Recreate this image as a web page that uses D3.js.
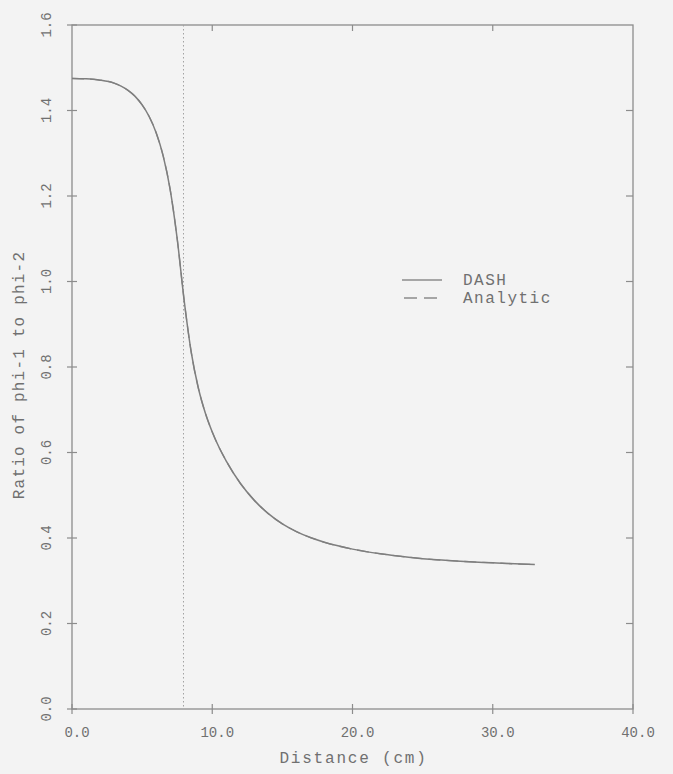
<!DOCTYPE html>
<html>
<head>
<meta charset="utf-8">
<script src="https://cdn.jsdelivr.net/npm/d3@7"></script>
<style>
  html, body { margin: 0; padding: 0; background: #f3f3f3; }
  svg { display: block; }
  text { font-family: "Liberation Mono", "DejaVu Sans Mono", monospace; fill: #707070; }
</style>
</head>
<body>
<script>
// ---- data ----
const distance = [0, 1, 2, 3, 3.5, 4, 4.5, 5, 5.5, 6, 6.5, 7, 7.5, 8, 8.5, 9, 9.5, 10, 10.5, 11, 12, 13, 14, 15, 16, 17, 18, 20, 22, 24, 26, 28, 30, 32, 33];
const dashRatio = [1.475, 1.474, 1.471, 1.464, 1.457, 1.447, 1.433, 1.413, 1.386, 1.348, 1.294, 1.215, 1.100, 0.955, 0.835, 0.752, 0.693, 0.648, 0.611, 0.580, 0.528, 0.488, 0.457, 0.433, 0.415, 0.401, 0.390, 0.374, 0.363, 0.355, 0.349, 0.345, 0.342, 0.339, 0.338];
const analyticRatio = [1.475, 1.474, 1.471, 1.464, 1.457, 1.447, 1.433, 1.413, 1.386, 1.348, 1.294, 1.215, 1.100, 0.955, 0.835, 0.752, 0.693, 0.648, 0.611, 0.580, 0.528, 0.488, 0.457, 0.433, 0.415, 0.401, 0.390, 0.374, 0.363, 0.355, 0.349, 0.345, 0.342, 0.339, 0.338];
const interfacePosition = 7.95;
const xTicks = [0, 10, 20, 30, 40];
const yTicks = [0, 0.2, 0.4, 0.6, 0.8, 1.0, 1.2, 1.4, 1.6];
const legendLabels = ["DASH", "Analytic"];
const xTitle = "Distance (cm)";
const yTitle = "Ratio of phi-1 to phi-2";

// ---- layout ----
const W = 673, H = 774;
const mLeft = 72, mRight = 633, mTop = 25, mBottom = 709;
const lineColor = "#8c8c8c";

const svg = d3.select("body").append("svg").attr("width", W).attr("height", H);
svg.append("rect").attr("width", W).attr("height", H).attr("fill", "#f3f3f3");

const x = d3.scaleLinear().domain([0, 40]).range([mLeft, mRight]);
const y = d3.scaleLinear().domain([0, 1.6]).range([mBottom, mTop]);

// frame
svg.append("rect").attr("x", mLeft).attr("y", mTop).attr("width", mRight - mLeft).attr("height", mBottom - mTop)
  .attr("fill", "none").attr("stroke", lineColor).attr("stroke-width", 1.3);

// bottom axis ticks (crossing)
const gx = svg.append("g");
gx.selectAll("line").data(xTicks).join("line")
  .attr("x1", d => x(d)).attr("x2", d => x(d))
  .attr("y1", mBottom - 5).attr("y2", mBottom + 5)
  .attr("stroke", lineColor).attr("stroke-width", 1.2);
gx.selectAll("text").data(xTicks).join("text")
  .attr("x", d => x(d) + 5).attr("y", mBottom + 28)
  .attr("text-anchor", "middle").attr("font-size", 14)
  .text(d => d3.format(".1f")(d));
// top ticks (inward)
svg.append("g").selectAll("line").data(xTicks.slice(1, -1)).join("line")
  .attr("x1", d => x(d)).attr("x2", d => x(d))
  .attr("y1", mTop).attr("y2", mTop + 6)
  .attr("stroke", lineColor).attr("stroke-width", 1.2);

// left axis ticks (crossing)
const gy = svg.append("g");
gy.selectAll("line").data(yTicks).join("line")
  .attr("x1", mLeft - 5).attr("x2", mLeft + 5)
  .attr("y1", d => y(d)).attr("y2", d => y(d))
  .attr("stroke", lineColor).attr("stroke-width", 1.2);
gy.selectAll("text").data(yTicks).join("text")
  .attr("transform", d => `translate(${mLeft - 21},${y(d)}) rotate(-90)`)
  .attr("text-anchor", "middle").attr("font-size", 14)
  .text(d => d3.format(".1f")(d));
// right ticks (inward)
svg.append("g").selectAll("line").data(yTicks.slice(1, -1)).join("line")
  .attr("x1", mRight - 7).attr("x2", mRight)
  .attr("y1", d => y(d)).attr("y2", d => y(d))
  .attr("stroke", lineColor).attr("stroke-width", 1.2);

// interface dotted line
svg.append("line")
  .attr("x1", x(interfacePosition)).attr("x2", x(interfacePosition))
  .attr("y1", mTop).attr("y2", mBottom)
  .attr("stroke", "#a2a2a2").attr("stroke-width", 1).attr("stroke-dasharray", "1.5,2.5");

// curves
const line = d3.line().curve(d3.curveMonotoneX);
svg.append("path")
  .attr("d", line(distance.map((d, i) => [x(d), y(analyticRatio[i])])))
  .attr("fill", "none").attr("stroke", lineColor).attr("stroke-width", 1.3)
  .attr("stroke-dasharray", "12,6");
svg.append("path")
  .attr("d", line(distance.map((d, i) => [x(d), y(dashRatio[i])])))
  .attr("fill", "none").attr("stroke", "#7e7e7e").attr("stroke-width", 1.5);

// legend
const legend = svg.append("g");
const legendY = [280, 298];
legend.append("line").attr("x1", 402).attr("x2", 442).attr("y1", legendY[0]).attr("y2", legendY[0])
  .attr("stroke", lineColor).attr("stroke-width", 1.3);
legend.append("line").attr("x1", 404).attr("x2", 442).attr("y1", legendY[1]).attr("y2", legendY[1])
  .attr("stroke", lineColor).attr("stroke-width", 1.3).attr("stroke-dasharray", "13,7");
legend.selectAll("text").data(legendLabels).join("text")
  .attr("x", 463).attr("y", (d, i) => legendY[i] + 5)
  .attr("font-size", 16).attr("letter-spacing", 1.5)
  .text(d => d);

// axis titles
svg.append("text").attr("x", (mLeft + mRight) / 2 + 1).attr("y", 763)
  .attr("text-anchor", "middle").attr("font-size", 16).attr("letter-spacing", 1.8)
  .text(xTitle);
svg.append("text").attr("transform", `translate(24,${375}) rotate(-90)`)
  .attr("text-anchor", "middle").attr("font-size", 16).attr("letter-spacing", 1.2)
  .text(yTitle);
</script>
</body>
</html>
